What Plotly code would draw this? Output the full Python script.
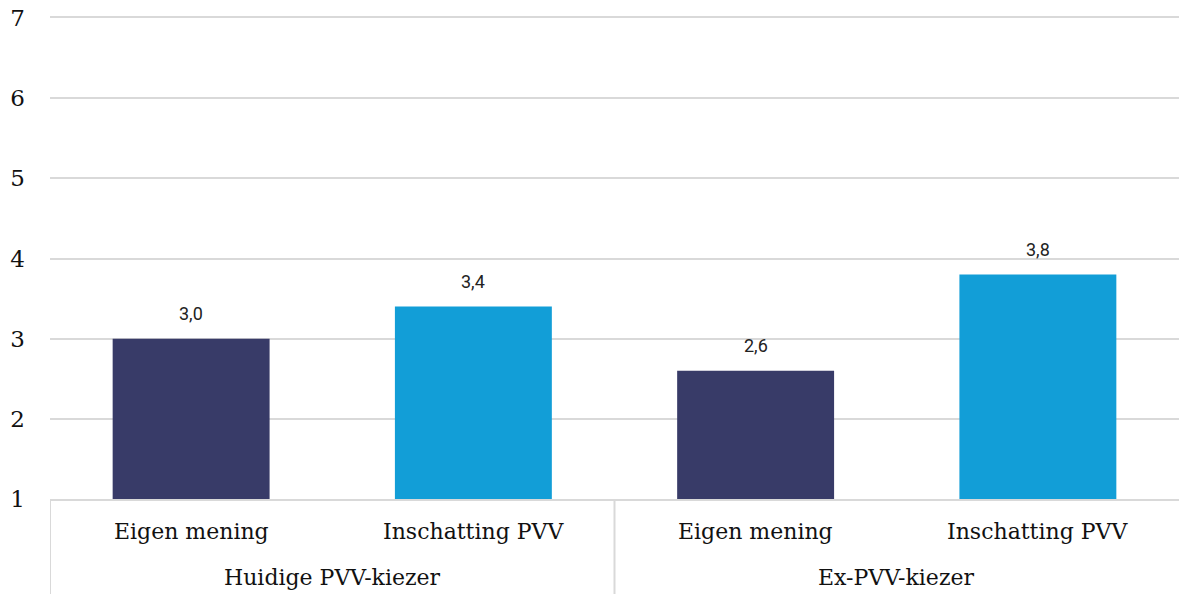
import plotly.graph_objects as go

groups = ["Huidige PVV-kiezer", "Huidige PVV-kiezer", "Ex-PVV-kiezer", "Ex-PVV-kiezer"]
categories = ["Eigen mening", "Inschatting PVV", "Eigen mening", "Inschatting PVV"]
values = [3.0, 3.4, 2.6, 3.8]
bar_colors = ["#383b68", "#129ed7", "#383b68", "#129ed7"]
labels = [f"{v:.1f}".replace(".", ",") for v in values]
y_ticks = [1, 2, 3, 4, 5, 6, 7]

fig = go.Figure()
fig.add_trace(go.Bar(
    x=[groups, categories],
    y=[v - 1 for v in values],
    base=1,
    marker=dict(color=bar_colors, line=dict(width=0)),
    hoverinfo="skip",
))

label_font = dict(family="DejaVu Serif, serif", size=22, color="#111111")

# value labels above bars
for i, (v, t) in enumerate(zip(values, labels)):
    fig.add_annotation(
        x=i, y=v, xref="x", yref="y", text=t, showarrow=False,
        yanchor="bottom", yshift=13,
        font=dict(family="Roboto, Arial, sans-serif", size=18, color="#222222"),
    )

# first-level category labels
for i, c in enumerate(categories):
    fig.add_annotation(
        x=i, y=0, xref="x", yref="paper", text=c, showarrow=False,
        yanchor="middle", yshift=-32, font=label_font,
    )

# group labels and dividers
unique_groups = list(dict.fromkeys(groups))
for g in unique_groups:
    idx = [i for i, gg in enumerate(groups) if gg == g]
    mid = (idx[0] + idx[-1]) / 2
    fig.add_annotation(
        x=mid, y=0, xref="x", yref="paper", text=g, showarrow=False,
        yanchor="middle", yshift=-78, font=label_font,
    )
    fig.add_shape(
        type="line", xref="x", yref="paper",
        x0=idx[0] - 0.5, x1=idx[0] - 0.5, y0=0, y1=-0.21,
        line=dict(color="#d9d9d9", width=2),
    )

fig.update_layout(
    width=1179, height=594,
    margin=dict(l=50, r=0, t=18, b=95),
    plot_bgcolor="white", paper_bgcolor="white",
    showlegend=False,
    bargap=0.444,
    font=label_font,
)
fig.update_xaxes(
    type="multicategory",
    showline=True, linecolor="#d9d9d9", linewidth=2, mirror=True,
    showdividers=False, showticklabels=False,
    showgrid=False,
    range=[-0.5, 3.5],
)
fig.update_yaxes(
    range=[1, 7],
    tickvals=y_ticks,
    showgrid=True, gridcolor="#d9d9d9", gridwidth=2,
    zeroline=False, showline=False,
    ticks="", ticklabelstandoff=24,
    tickfont=dict(family="DejaVu Serif, serif", size=23, color="#111111"),
)

fig.write_html("out.html", config={"displayModeBar": False},
               post_script="document.body.style.margin='0';")
